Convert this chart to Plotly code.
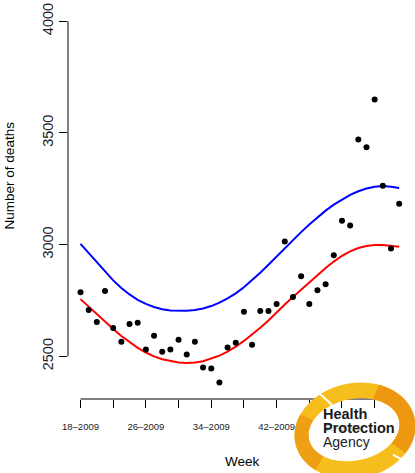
import math
import plotly.graph_objects as go

# ---------------- data ----------------
weeks = list(range(18, 54)) + [1, 2, 3, 4]
years = [2009] * 36 + [2010] * 4
week_labels = [f"{w}\u2013{y}" for w, y in zip(weeks, years)]

deaths = [2787, 2707, 2654, 2792, 2627, 2565, 2645, 2650, 2530, 2592,
          2521, 2530, 2574, 2508, 2565, 2450, 2445, 2383, 2539, 2561,
          2699, 2552, 2703, 2703, 2734, 3014, 2765, 2858, 2734, 2796,
          2823, 2952, 3107, 3085, 3471, 3436, 3649, 3263, 2983, 3183]

baseline = [2756, 2722, 2688, 2655, 2622, 2591, 2563, 2538, 2517, 2500,
            2487, 2478, 2472, 2470, 2472, 2478, 2489, 2503, 2521, 2543,
            2569, 2597, 2628, 2660, 2698, 2732, 2766, 2799, 2831, 2862,
            2895, 2924, 2950, 2970, 2985, 2994, 2998, 2998, 2995, 2990]

threshold = [3003, 2962, 2920, 2878, 2840, 2806, 2777, 2753, 2735, 2721,
             2711, 2705, 2703, 2704, 2707, 2714, 2725, 2740, 2759, 2782,
             2809, 2840, 2874, 2910, 2947, 2984, 3021, 3056, 3090, 3122,
             3152, 3179, 3203, 3223, 3239, 3251, 3259, 3262, 3259, 3253]

y_ticks = [2500, 3000, 3500, 4000]
tick_idx = list(range(0, 40, 4))
tick_vals = [week_labels[i] for i in tick_idx]
tick_text = [week_labels[i] if k % 2 == 0 and i < 32 else "" for k, i in enumerate(tick_idx)]

FONT = "Liberation Sans, Arial, Helvetica, sans-serif"

# ---------------- figure ----------------
fig = go.Figure()
fig.add_trace(go.Scatter(x=week_labels, y=threshold, mode="lines",
                         line=dict(color="#0000FF", width=2), hoverinfo="skip"))
fig.add_trace(go.Scatter(x=week_labels, y=baseline, mode="lines",
                         line=dict(color="#FF0000", width=2), hoverinfo="skip"))
fig.add_trace(go.Scatter(x=week_labels, y=deaths, mode="markers",
                         marker=dict(color="black", size=6)))

W, H = 415, 473
ML, MR, MT, MB = 68, 3, 4, 74
PW, PH = W - ML - MR, H - MT - MB


def px2paper(px, py):
    return (px - ML) / PW, (H - MB - py) / PH


shapes = []
# R-style axis lines
shapes.append(dict(type="line", xref="x", yref="paper", x0=0, x1=36, y0=0, y1=0,
                   line=dict(color="black", width=1)))
shapes.append(dict(type="line", xref="paper", yref="y", x0=0, x1=0, y0=2500, y1=4000,
                   line=dict(color="black", width=1)))


def ellipse_pts(cx, cy, a, b, rot_deg, n=72, t0=0.0, t1=2 * math.pi, reverse=False):
    th = math.radians(rot_deg)
    pts = []
    for k in range(n + 1):
        t = t0 + (t1 - t0) * k / n
        ex, ey = a * math.cos(t), b * math.sin(t)
        x = cx + ex * math.cos(th) + ey * math.sin(th)
        y = cy - ex * math.sin(th) + ey * math.cos(th)
        pts.append(px2paper(x, y))
    if reverse:
        pts = pts[::-1]
    return pts


def to_path(pts, close=True):
    s = "M " + " L ".join(f"{x:.4f},{y:.4f}" for x, y in pts)
    return s + (" Z" if close else "")


OUT = (355, 431, 61, 48, 12)
INN = (354, 430, 46, 31, 12)

# logo ring (gold base)
shapes.append(dict(type="path", xref="paper", yref="paper", layer="above",
                   path=to_path(ellipse_pts(*OUT)) + " " + to_path(ellipse_pts(*INN)),
                   fillrule="evenodd", fillcolor="#F6BE1C", line=dict(width=0)))
# orange shading on right and left parts
for (t0, t1, op) in [(-1.0, 0.75, 0.85), (2.45, 3.75, 0.7)]:
    o_arc = ellipse_pts(*OUT, n=40, t0=t0, t1=t1)
    i_arc = ellipse_pts(*INN, n=40, t0=t0, t1=t1, reverse=True)
    shapes.append(dict(type="path", xref="paper", yref="paper", layer="above",
                       path=to_path(o_arc + i_arc), fillcolor="#EC9210", opacity=op,
                       line=dict(width=0)))
# white gaps in the swoosh
for (ax, ay, bx, by) in [(318, 392, 332, 405), (393, 455, 412, 466)]:
    p0 = px2paper(ax, ay)
    p1 = px2paper(bx, by)
    shapes.append(dict(type="line", xref="paper", yref="paper", layer="above",
                       x0=p0[0], y0=p0[1], x1=p1[0], y1=p1[1],
                       line=dict(color="white", width=2)))

annotations = []


def ann(text, px, py, size, xanchor="center", angle=0, color="black"):
    x, y = px2paper(px, py)
    annotations.append(dict(text=text, x=x, y=y, xref="paper", yref="paper",
                            xanchor=xanchor, yanchor="middle", showarrow=False,
                            textangle=angle, font=dict(family=FONT, size=size, color=color)))


ann("Number of deaths", 9, 173.7, 13.5, angle=-90)
ann("Week", 242.5, 461.5, 13.5)
# faint tick label seen through the logo
ann("50\u20132009", 342, 428, 9.5, color="#c4c4c4")
ann("<b>Health</b>", 320.5, 414.5, 14.5, xanchor="left", color="#1a1a1a")
ann("<b>Protection</b>", 320.5, 428.5, 14.5, xanchor="left", color="#1a1a1a")
ann("Agency", 320.5, 442.5, 14, xanchor="left", color="#1a1a1a")

fig.update_layout(
    width=W, height=H,
    margin=dict(l=ML, r=MR, t=MT, b=MB, pad=0),
    paper_bgcolor="white", plot_bgcolor="white",
    showlegend=False,
    font=dict(family=FONT, color="black"),
    shapes=shapes, annotations=annotations,
    xaxis=dict(type="category", range=[-1.53, 40.57], tickmode="array",
               tickvals=tick_vals, ticktext=tick_text, ticks="outside",
               ticklen=8, tickwidth=1, tickcolor="black", showline=False,
               showgrid=False, zeroline=False, tickangle=0,
               ticklabelstandoff=11,
               tickfont=dict(family=FONT, size=9.5, color="#222222")),
    yaxis=dict(range=[2309, 4063.5], tickmode="array", tickvals=y_ticks,
               ticks="outside", ticklen=8, tickwidth=1, tickcolor="black",
               showline=False, showgrid=False, zeroline=False, tickangle=-90,
               ticklabeloverflow="allow",
               tickfont=dict(family=FONT, size=14.5, color="#222222")),
)

fig.write_html("out.html")
